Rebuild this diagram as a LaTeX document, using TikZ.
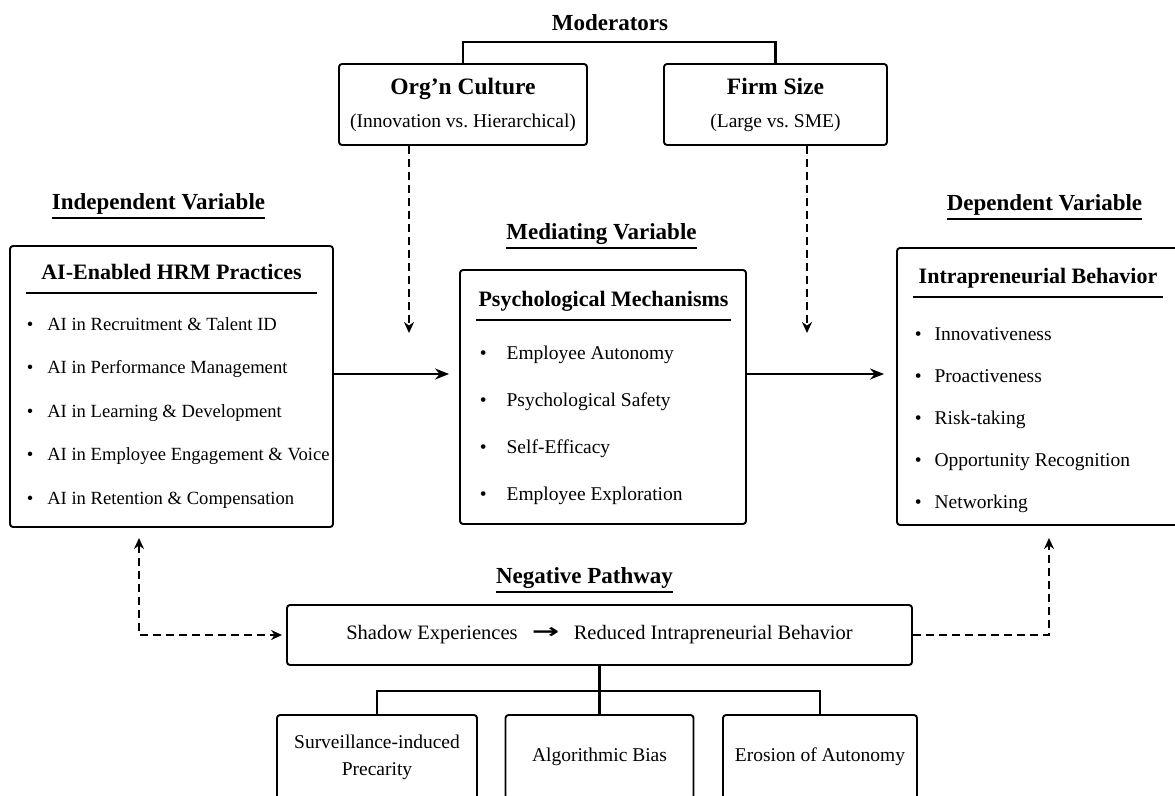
\documentclass[tikz,border=0pt]{standalone}
\usepackage{fontspec}
\setmainfont{Liberation Serif}
\newfontfamily\arrowfont{DejaVu Sans}
\usepackage{tikz}
\usetikzlibrary{arrows.meta,positioning}

\begin{document}
\begin{tikzpicture}[x=1pt, y=-1pt,
  box/.style={draw, line width=1.9pt, rounded corners=3pt, inner sep=0pt, align=center, font=\fontsize{19.5}{27}\selectfont},
  head/.style={font=\bfseries\fontsize{23}{27}\selectfont, inner sep=0pt},
  sec/.style={head, anchor=base, text depth=9pt},
  ttl/.style={font=\bfseries\fontsize{22}{26}\selectfont, inner sep=0pt, anchor=base, text depth=14pt},
  items/.style={anchor=base west, align=left, inner sep=0pt},
  rule/.style={line width=2.2pt},
  arr/.style={-{Stealth[length=14pt, width=11pt]}, line width=1.9pt},
  darr/.style={>={Stealth[length=11pt, width=10pt]}, line width=1.7pt, dash pattern=on 8pt off 5pt}]
  \useasboundingbox (0,0) rectangle (1175,795);
  % coordinates in pixels of the 1175 x 795 frame, y going down
  % moderators on top
  \node[head] (modt) at (610,23) {Moderators};
  \node[box, minimum width=248pt, minimum height=81pt] (org)  at (463,104.5)   {{\bfseries\fontsize{23.5}{27}\selectfont Org'n Culture}\\[6pt](Innovation vs.\ Hierarchical)};
  \node[box, minimum width=223pt, minimum height=81pt] (firm) at (775.5,104.5) {{\bfseries\fontsize{23.5}{27}\selectfont Firm Size}\\[6pt](Large vs.\ SME)};
  \coordinate (modbar) at (0,42);
  \draw[rule] (org.north) -- (org.north |- modbar) -- (firm.north |- modbar) -- (firm.north);
  % three main boxes
  \node[sec] (ivlab) at (158.5,209)  {Independent Variable};
  \node[sec] (mvlab) at (601.5,239)  {Mediating Variable};
  \node[sec] (dvlab) at (1044.5,210) {Dependent Variable};
  \draw[rule] (ivlab.south west) -- (ivlab.south east);
  \draw[rule] (mvlab.south west) -- (mvlab.south east);
  \draw[rule] (dvlab.south west) -- (dvlab.south east);
  \node[box, minimum width=323pt, minimum height=281pt] (iv) at (171.5,386.5) {};
  \node[box, minimum width=286pt, minimum height=254pt] (mv) at (603,397)     {};
  \node[box, minimum width=286pt, minimum height=277pt] (dv) at (1040,386.5)  {};
  \node[ttl, minimum width=291pt] (ivttl) at (171.5,279) {AI-Enabled HRM Practices};
  \node[ttl, minimum width=255pt] (mvttl) at (603.5,306) {Psychological Mechanisms};
  \node[ttl, minimum width=250pt] (dvttl) at (1038,283)  {Intrapreneurial Behavior};
  \draw[rule] (ivttl.south west) -- (ivttl.south east);
  \draw[rule] (mvttl.south west) -- (mvttl.south east);
  \draw[rule] (dvttl.south west) -- (dvttl.south east);
  % lists sit on the baseline of their last line
  \node[items, font=\fontsize{18.6}{43.5}\selectfont] (ivlist) at (26.6,504) {%
    \textbullet\hspace{14pt}AI in Recruitment \& Talent ID\\
    \textbullet\hspace{14pt}AI in Performance Management\\
    \textbullet\hspace{14pt}AI in Learning \& Development\\
    \textbullet\hspace{14pt}AI in Employee Engagement \& Voice\\
    \textbullet\hspace{14pt}AI in Retention \& Compensation};
  \node[items, font=\fontsize{19.5}{46.7}\selectfont] (mvlist) at (479.6,500) {%
    \textbullet\hspace{20pt}Employee Autonomy\\
    \textbullet\hspace{20pt}Psychological Safety\\
    \textbullet\hspace{20pt}Self-Efficacy\\
    \textbullet\hspace{20pt}Employee Exploration};
  \node[items, font=\fontsize{19.5}{42}\selectfont] (dvlist) at (914.6,508) {%
    \textbullet\hspace{13pt}Innovativeness\\
    \textbullet\hspace{13pt}Proactiveness\\
    \textbullet\hspace{13pt}Risk-taking\\
    \textbullet\hspace{13pt}Opportunity Recognition\\
    \textbullet\hspace{13pt}Networking};
  \coordinate (row) at (0,374);
  \draw[arr, shorten >=10pt] (iv.east |- row) -- (mv.west |- row);
  \draw[arr, shorten >=12pt] (mv.east |- row) -- (dv.west |- row);
  \coordinate (orgtip)  at (409,333);
  \coordinate (firmtip) at (807,333);
  \draw[darr, ->] (org.south -| orgtip) -- (orgtip);
  \draw[darr, ->] (firm.south -| firmtip) -- (firmtip);
  % negative pathway
  \node[sec] (neglab) at (584.5,583) {Negative Pathway};
  \draw[rule] (neglab.south west) -- (neglab.south east);
  \node[box, minimum width=625pt, minimum height=60pt, font=\fontsize{20.5}{24}\selectfont] (shadow) at (599.5,635)
    {Shadow Experiences\hspace{0.7em}\raisebox{1pt}{\scalebox{1.6}[1]{\arrowfont\bfseries →}}\hspace{0.7em}Reduced Intrapreneurial Behavior};
  \coordinate (ltip) at (139,538);
  \coordinate (rtip) at (1049,538);
  \draw[darr, <->] (ltip) |- ([xshift=-4pt]shadow.west);
  \draw[darr, ->] (shadow.east) -| (rtip);
  \node[box, minimum width=200pt, minimum height=84pt] (surv) at (377,757)   {Surveillance-induced\\Precarity};
  \node[box, minimum width=188pt, minimum height=84pt] (bias) at (599.5,757) {Algorithmic Bias};
  \node[box, minimum width=194pt, minimum height=84pt] (eros) at (820,757)   {Erosion of Autonomy};
  \coordinate (negbar) at (0,691);
  \draw[rule] (shadow.south) -- (bias.north);
  \draw[rule] (surv.north) -- (surv.north |- negbar) -- (eros.north |- negbar) -- (eros.north);
\end{tikzpicture}
\end{document}
